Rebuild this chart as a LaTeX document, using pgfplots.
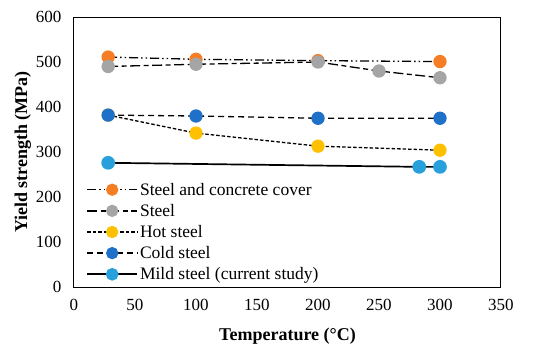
\documentclass[border=0pt]{standalone}
\usepackage{pgfplots}
\pgfplotsset{compat=1.18}
\usepackage{fontspec}
\setmainfont{Liberation Serif}
\definecolor{corange}{HTML}{F57D23}
\definecolor{cgray}{HTML}{A5A5A5}
\definecolor{cyellow}{HTML}{FFC000}
\definecolor{cdblue}{HTML}{1F70C8}
\definecolor{clblue}{HTML}{28A0DC}
\begin{document}
\begin{tikzpicture}
\begin{axis}[
  scale only axis, width=427pt, height=270pt,
  xmin=0, xmax=350, ymin=0, ymax=600,
  xtick={0,50,...,350}, ytick={0,100,...,600},
  major tick length=0pt,
  tick label style={font=\fontsize{17}{17}\selectfont},
  xticklabel style={yshift=-9pt},
  yticklabel style={xshift=-9pt},
  /pgf/number format/assume math mode=true,
  xlabel={\textbf{Temperature (°C)}},
  ylabel={\textbf{Yield strength (MPa)}},
  label style={font=\fontsize{18}{18}\selectfont},
  xlabel style={yshift=-10pt},
  ylabel style={yshift=-2pt},
  axis line style={line width=1pt},
  legend style={draw=none, fill=none, at={(0.026,0.01)}, anchor=south west,
    font=\fontsize{17.5}{17.5}\selectfont, row sep=3.5pt, inner sep=1pt},
  legend cell align=left,
  legend image code/.code={
    \draw[#1, mark=none] (0cm,0cm) -- (1.76cm,0cm);
    \draw[#1, solid, only marks, mark size=5.5pt] plot coordinates {(0.88cm,0cm)};
  },
  every axis plot/.append style={line width=1.3pt, mark=*, mark size=6pt},
]
\addplot[black, dash pattern=on 9pt off 3pt on 1.5pt off 3pt on 1.5pt off 3pt,
  mark options={solid, draw=corange, fill=corange}]
  coordinates {(28,511) (100,506) (200,503) (300,501)};
\addlegendentry{Steel and concrete cover}
\addplot[black, dash pattern=on 10pt off 3.5pt on 5pt off 3.5pt,
  mark options={solid, draw=cgray, fill=cgray}]
  coordinates {(28,490) (100,495) (200,500) (250,480) (300,465)};
\addlegendentry{Steel}
\addplot[black, dash pattern=on 3.5pt off 2pt,
  mark options={solid, draw=cyellow, fill=cyellow}]
  coordinates {(28,382) (100,342) (200,313) (300,304)};
\addlegendentry{Hot steel}
\addplot[black, dash pattern=on 6pt off 4pt,
  mark options={solid, draw=cdblue, fill=cdblue}]
  coordinates {(28,382) (100,380) (200,375) (300,375)};
\addlegendentry{Cold steel}
\addplot[black, solid, line width=1.7pt,
  mark options={solid, draw=clblue, fill=clblue}]
  coordinates {(28,276) (283,267) (300,267)};
\addlegendentry{Mild steel (current study)}
\end{axis}
\path[use as bounding box] (-74pt,-73pt) rectangle (476pt,287pt);
\end{tikzpicture}
\end{document}
